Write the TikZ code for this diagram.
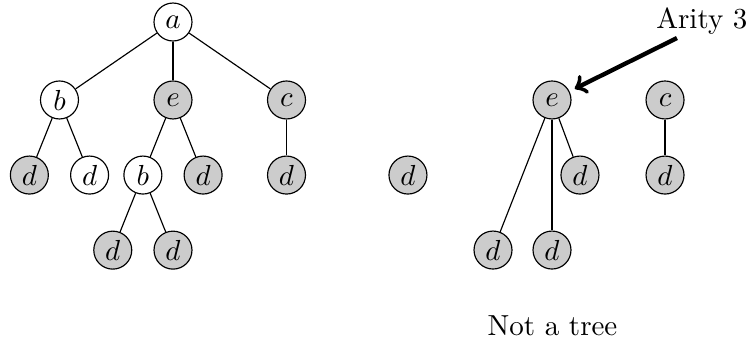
\documentclass[tikz,border=0pt]{standalone}
\usepackage{tikz}
\usetikzlibrary{arrows,positioning}
\tikzset{
  vertex/.style = {draw, circle, minimum size=13.1pt, inner sep=0pt},
  plain/.style  = {vertex, fill=white},
  marked/.style = {vertex, fill=black!20}
}

\begin{document}
\begin{tikzpicture}[
  level 1/.style={sibling distance=1.376cm, level distance=0.945cm},
  level 2/.style={sibling distance=0.73cm, level distance=0.91cm},
  level 3/.style={sibling distance=0.73cm, level distance=0.91cm},
  edge from parent/.style={-,draw}]
\useasboundingbox (-2.097,0.267) rectangle (7.006,-3.867);

% left tree, rooted at a
\node[plain] (a) {$a$}
  child {node[plain] (b1) {$b$}
    child {node[marked] (d1) {$d$}}
    child {node[plain] (d2) {$d$}}}
  child {node[marked] (e1) {$e$}
    child {node[plain] (b2) {$b$}
      child {node[marked] (d3) {$d$}}
      child {node[marked] (d4) {$d$}}}
    child {node[marked] (d5) {$d$}}}
  child {node[marked] (c1) {$c$}
    child {node[marked] (d6) {$d$}}};

% right side, what is left once a and b are removed
\node[marked] (d7) at (2.848,-1.855) {$d$};
\node[marked] (e2) at (4.594,-0.945) {$e$};
\node[marked] (c2) at (5.964,-0.945) {$c$};
\node[marked] (d8) at (3.879,-2.764) {$d$};
\node[marked] (d9) at (4.594,-2.764) {$d$};
\node[marked] (d10) at (4.933,-1.855) {$d$};
\node[marked] (d11) at (5.964,-1.855) {$d$};
\draw (e2) -- (d8);
\draw (e2) -- (d9);
\draw (e2) -- (d10);
\draw (c2) -- (d11);

% labels
\node[anchor=base east, inner sep=0pt] (arity) at (6.97,-0.073) {Arity 3};
\coordinate (tail) at (6.109,-0.194);
\draw[->, line width=1.5pt, shorten >=2pt] (tail) -- (e2);
\node[anchor=base, inner sep=0pt] (caption) at (4.6,-3.794) {Not a tree};

\end{tikzpicture}
\end{document}
